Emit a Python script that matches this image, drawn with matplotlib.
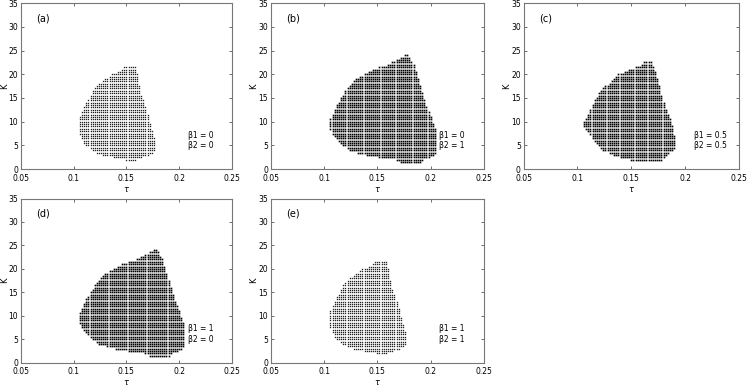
import numpy as np
import matplotlib
matplotlib.use('Agg')
import matplotlib.pyplot as plt
from matplotlib.path import Path

# outline of the stable region in the (tau, K) plane
# case a / e : beta1 = 0, beta2 = 0  and  beta1 = 1, beta2 = 1
tau_a = [0.150, 0.158, 0.160, 0.161, 0.164, 0.168, 0.171, 0.175, 0.178, 0.178, 0.172, 0.160,
         0.152, 0.147, 0.131, 0.119, 0.111, 0.108, 0.106, 0.106, 0.109, 0.114, 0.119, 0.126,
         0.134, 0.144]
k_a = [21.9, 21.9, 20.2, 19.1, 15.6, 13.5, 10.7, 7.2, 6.1, 4.0, 3.0, 2.1,
       1.6, 2.3, 2.6, 3.7, 5.1, 6.1, 7.5, 11.4, 12.8, 14.9, 17.0, 18.4,
       19.8, 20.9]

# case b / d : beta1 = 0, beta2 = 1  and  beta1 = 1, beta2 = 0
tau_b = [0.176, 0.180, 0.182, 0.185, 0.188, 0.193, 0.197, 0.202, 0.205, 0.205, 0.200, 0.191,
         0.190, 0.172, 0.171, 0.155, 0.140, 0.124, 0.115, 0.108, 0.105, 0.105, 0.110, 0.115,
         0.121, 0.130, 0.143, 0.158, 0.168]
k_b = [24.0, 24.0, 22.6, 21.9, 19.1, 15.6, 12.8, 10.0, 8.2, 3.3, 2.6, 1.9,
       1.2, 1.2, 1.9, 2.3, 3.0, 4.0, 5.4, 7.5, 8.6, 10.5, 12.8, 14.9,
       17.0, 19.1, 20.9, 21.9, 23.0]

# case c : beta1 = 0.5, beta2 = 0.5
tau_c = [0.164, 0.168, 0.172, 0.177, 0.181, 0.186, 0.189, 0.192, 0.192, 0.187, 0.177, 0.153,
         0.136, 0.124, 0.115, 0.111, 0.106, 0.106, 0.111, 0.116, 0.122, 0.130, 0.139, 0.150,
         0.159]
k_c = [22.9, 22.9, 20.9, 16.7, 13.5, 10.7, 8.2, 6.1, 4.4, 3.7, 1.8, 1.8,
       2.6, 4.0, 6.1, 7.5, 9.0, 10.0, 12.4, 14.6, 16.7, 18.4, 20.2, 21.2,
       21.9]

labels = ['(a)', '(b)', '(c)', '(d)', '(e)']
beta1 = ['0', '0', '0.5', '1', '1']
beta2 = ['0', '1', '0.5', '0', '1']
outlines = [(tau_a, k_a), (tau_b, k_b), (tau_c, k_c), (tau_b, k_b), (tau_a, k_a)]
dot_size = [0.95, 1.2, 1.2, 1.2, 0.95]
dot_col = ['#222222', 'black', 'black', 'black', '#222222']

# parameter grid of the scan
tau_grid = np.arange(0.100, 0.212, 0.002)
k_grid = np.arange(0.5, 26, 0.5)
T, KK = np.meshgrid(tau_grid, k_grid)
pts = np.column_stack([T.ravel(), KK.ravel()])

fig = plt.figure(figsize=(7.48, 3.87), dpi=100)
boxes = [[0.028, 0.563, 0.282, 0.429],
         [0.362, 0.563, 0.285, 0.429],
         [0.700, 0.563, 0.288, 0.429],
         [0.028, 0.063, 0.282, 0.424],
         [0.362, 0.063, 0.285, 0.424]]

for i in range(5):
    ax = fig.add_axes(boxes[i])
    tt, kk = outlines[i]
    inside = Path(np.column_stack([tt, kk])).contains_points(pts)
    ax.plot(pts[inside, 0], pts[inside, 1], 's', color=dot_col[i], ms=dot_size[i],
            mew=0, linestyle='none', snap=False)

    ax.set_xlim(0.05, 0.25)
    ax.set_ylim(0, 35)
    ax.set_xticks([0.05, 0.1, 0.15, 0.2, 0.25])
    ax.set_xticklabels(['0.05', '0.1', '0.15', '0.2', '0.25'])
    ax.set_yticks(range(0, 36, 5))
    ax.tick_params(direction='in', length=2, width=0.6, labelsize=5.5,
                   top=True, right=True, color='#555555')
    ax.tick_params(axis='x', pad=3.5)
    ax.tick_params(axis='y', pad=2)
    for s in ax.spines.values():
        s.set_color('#777777')
        s.set_linewidth(0.8)
    ax.set_xlabel(r'$\tau$', fontsize=6)
    ax.set_ylabel('K', fontsize=6)
    ax.xaxis.set_label_coords(0.5, -0.095)
    ax.yaxis.set_label_coords(-0.058, 0.5)

    ax.text(0.07, 0.94, labels[i], transform=ax.transAxes, fontsize=7, va='top')
    ax.text(0.79, 0.205, 'β1 = ' + beta1[i], transform=ax.transAxes, fontsize=5.5, va='center')
    ax.text(0.79, 0.14, 'β2 = ' + beta2[i], transform=ax.transAxes, fontsize=5.5, va='center')

plt.savefig('out.png', dpi=100)
